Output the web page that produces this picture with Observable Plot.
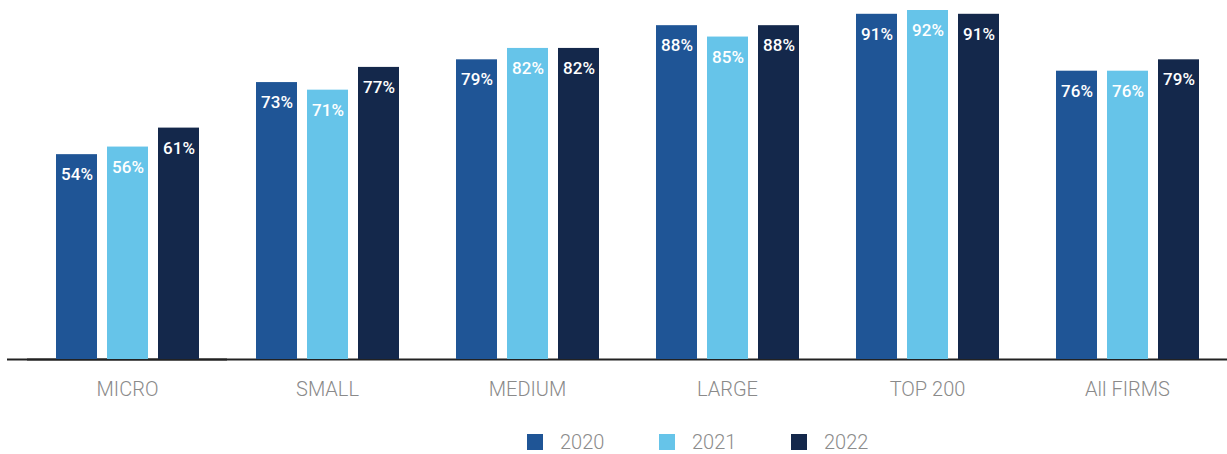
<!DOCTYPE html>
<html>
<head>
<meta charset="utf-8">
<script src="https://cdn.jsdelivr.net/npm/d3@7"></script>
<script src="https://cdn.jsdelivr.net/npm/@observablehq/plot@0.6"></script>
<style>
  html, body { margin: 0; padding: 0; background: #fff; }
  #legend { display: flex; justify-content: flex-start; height: 44px; align-items: center; padding-left: 527px; padding-top: 10px; font-family: Roboto, sans-serif; font-size: 20px; color: #8c8c8c; font-weight: 300; }
  .item { display: flex; align-items: center; margin-right: 0; }
  .sw { width: 16px; height: 16px; margin-right: 17px; }
</style>
</head>
<body>
<div id="chart"></div>
<div id="legend"></div>
<script>
const categories = ["MICRO", "SMALL", "MEDIUM", "LARGE", "TOP 200", "All FIRMS"];
const years = ["2020", "2021", "2022"];
const values2020 = [54, 73, 79, 88, 91, 76];
const values2021 = [56, 71, 82, 85, 92, 76];
const values2022 = [61, 77, 82, 88, 91, 79];
const colors = ["#1F5596", "#66C4E9", "#14284B"];

const series = [values2020, values2021, values2022];
const data = [];
categories.forEach((c, i) => {
  years.forEach((y, j) => data.push({category: c, year: y, value: series[j][i]}));
});

const chart = Plot.plot({
  width: 1227,
  height: 410,
  marginTop: 10,
  marginBottom: 51,
  marginLeft: 7,
  marginRight: 0,
  style: {fontFamily: "Roboto, sans-serif", background: "#fff"},
  fx: {
    domain: categories,
    paddingInner: 0,
    paddingOuter: 0.045,
    align: 1,
    axis: "bottom",
    label: null,
    tickSize: 0,
    tickPadding: 22
  },
  x: {domain: years, paddingInner: 0.2, paddingOuter: 0.54, axis: null},
  y: {domain: [0, 92], axis: null},
  color: {domain: years, range: colors},
  marks: [
    Plot.ruleY([0], {stroke: "#222", strokeWidth: 2}),
    Plot.ruleY([{category: "MICRO", value: 0}], {fx: "category", y: "value", stroke: "#222", strokeWidth: 2, insetLeft: -20}),
    Plot.barY(data, {fx: "category", x: "year", y: "value", fill: "year"}),
    Plot.text(data, {fx: "category", x: "year", y: "value", text: d => d.value + "%", dy: 20, fill: "white", fontSize: 17, fontWeight: 500})
  ]
});

const fxAxis = chart.querySelector("g[aria-label='fx-axis tick label']") || chart.querySelector("g[aria-label='fx-axis']");
if (fxAxis) {
  fxAxis.setAttribute("fill", "#8a8a8a");
  fxAxis.setAttribute("font-size", "20");
  fxAxis.setAttribute("font-weight", "300");
}

document.getElementById("chart").appendChild(chart);

const legend = document.getElementById("legend");
years.forEach((y, i) => {
  const item = document.createElement("div");
  item.className = "item";
  item.style.width = i < 2 ? "132px" : "auto";
  const sw = document.createElement("div");
  sw.className = "sw";
  sw.style.background = colors[i];
  const label = document.createElement("span");
  label.textContent = y;
  item.appendChild(sw);
  item.appendChild(label);
  legend.appendChild(item);
});
</script>
</body>
</html>
